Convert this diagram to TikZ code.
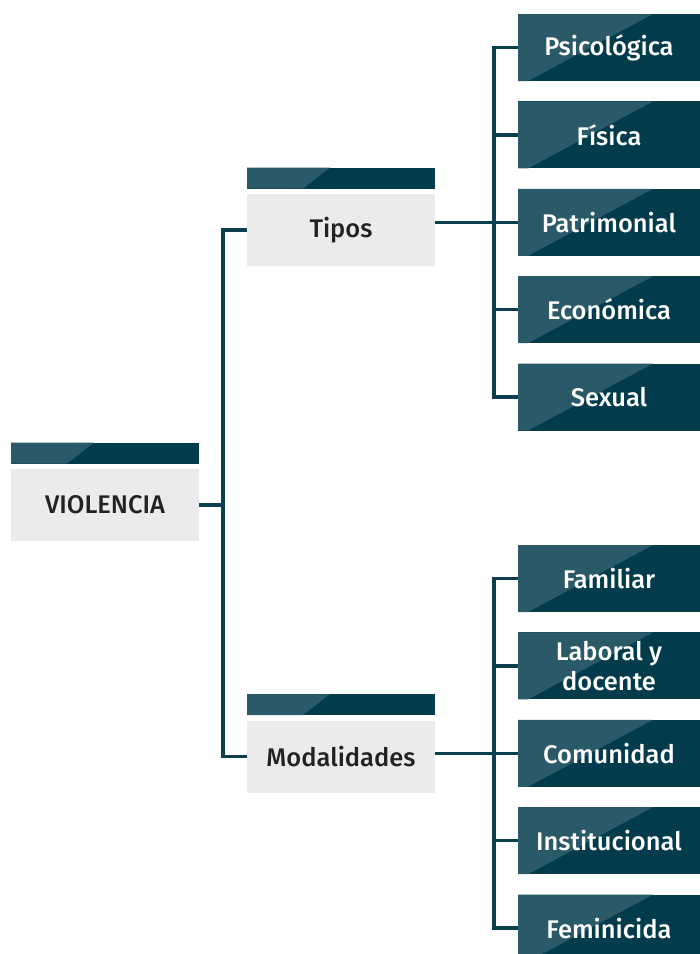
\documentclass[tikz,border=0pt]{standalone}
\usepackage{fontspec}
\setmainfont{Fira Sans}[BoldFont={Fira Sans Medium}]
\usetikzlibrary{positioning}

\definecolor{tealD}{HTML}{023B4C}
\definecolor{tealL}{HTML}{2A5A68}
\definecolor{boxgray}{HTML}{EBEBEB}
\definecolor{txtgray}{HTML}{222222}
\definecolor{linecol}{HTML}{0B3F4F}

\begin{document}
\begin{tikzpicture}[x=1pt,y=-1pt,
	conn/.style={draw=linecol,line width=3.3pt,line join=miter},
	tema/.style={fill=boxgray,minimum width=188pt,minimum height=72pt,inner sep=0pt,
		text=txtgray,font=\bfseries\fontsize{25.5}{29}\selectfont},
	barra/.style={fill=tealD,minimum width=188pt,minimum height=21pt,inner sep=0pt,
		path picture={\fill[tealL] (path picture bounding box.north west) -- ++(83pt,0)
			-- ([xshift=56pt]path picture bounding box.south west)
			-- (path picture bounding box.south west) -- cycle;}},
	hoja/.style={fill=tealD,minimum width=182pt,minimum height=67pt,inner sep=0pt,
		text=white,align=center,font=\bfseries\fontsize{25.5}{29.5}\selectfont,
		path picture={\fill[tealL] (path picture bounding box.north west) -- ++(135pt,0)
			-- ([xshift=10pt]path picture bounding box.south west)
			-- (path picture bounding box.south west) -- cycle;}}]
	\useasboundingbox (0,0) rectangle (700,954);

	% main boxes
	\node[tema] (violencia) at (105,505) {VIOLENCIA};
	\node[barra,above=5pt of violencia] (violencia-bar) {};
	\node[tema] (tipos) at (341,230) {Tipos};
	\node[barra,above=5pt of tipos] (tipos-bar) {};
	\node[tema] (modal) at (341,756.5) {Modalidades};
	\node[barra,above=5pt of modal] (modal-bar) {};

	% tipos
	\node[hoja] (psi) at (609,47.5) {Psicológica};
	\node[hoja,below=20pt of psi] (fis) {Física};
	\node[hoja,below=20pt of fis] (pat) {Patrimonial};
	\node[hoja,below=20pt of pat] (eco) {Económica};
	\node[hoja,below=20pt of eco] (sex) {Sexual};

	% modalidades
	\node[hoja] (fam) at (609,578.5) {Familiar};
	\node[hoja,below=20pt of fam] (lab) {Laboral y\\docente};
	\node[hoja,below=20pt of lab] (com) {Comunidad};
	\node[hoja,below=20pt of com] (ins) {Institucional};
	\node[hoja,below=20pt of ins] (fem) {Feminicida};

	\coordinate (vspine) at (223,0);
	\coordinate (rspine) at (494,0);

	\draw[conn] (violencia.east) -- (violencia.east -| vspine);
	\draw[conn] (tipos.west) -- (tipos.west -| vspine) -- (modal.west -| vspine) -- (modal.west);

	\draw[conn] (tipos.east |- pat.west) -- (pat.west);
	\draw[conn] (psi.west) -- (psi.west -| rspine) -- (sex.west -| rspine) -- (sex.west);
	\foreach \h in {fis,pat,eco}
		\draw[conn] (\h.west) -- (\h.west -| rspine);

	\draw[conn] (modal.east |- com.west) -- (com.west);
	\draw[conn] (fam.west) -- (fam.west -| rspine) -- (fem.west -| rspine) -- (fem.west);
	\foreach \h in {lab,com,ins}
		\draw[conn] (\h.west) -- (\h.west -| rspine);
\end{tikzpicture}
\end{document}
